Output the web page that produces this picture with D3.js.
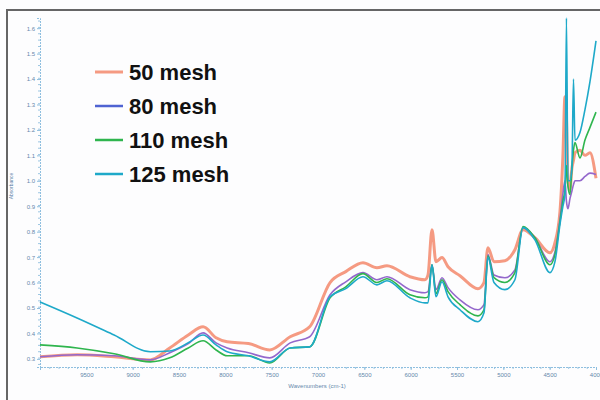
<!DOCTYPE html>
<html>
<head>
<meta charset="utf-8">
<script src="https://cdn.jsdelivr.net/npm/d3@7"></script>
<style>
  body { margin: 0; background: #fdfdfe; }
  .tick text { fill: #6688ab; font-family: "Liberation Sans", Arial, sans-serif; }
</style>
</head>
<body>
<div id="chart"></div>
<script>
// spectra (wavenumber in cm-1, absorbance)
var wavenumbers = [10000, 9600, 9200, 8810, 8600, 8400, 8240, 8100, 7980, 7750, 7520, 7300, 7090, 6870, 6700,
  6515, 6364, 6256, 6008, 5846, 5813, 5770, 5727, 5662, 5597, 5468, 5274, 5209, 5166, 5101, 4983, 4875, 4788,
  4659, 4497, 4443, 4389, 4357, 4335, 4319, 4303, 4281, 4260, 4243, 4227, 4173, 4119, 4065, 4000];

var mesh50 = [0.308, 0.316, 0.308, 0.296, 0.343, 0.394, 0.426, 0.383, 0.367, 0.36, 0.335, 0.387, 0.426, 0.60, 0.643,
  0.678, 0.658, 0.666, 0.623, 0.611, 0.63, 0.808, 0.682, 0.698, 0.662, 0.627, 0.576, 0.60, 0.737, 0.682, 0.686, 0.729, 0.808,
  0.776, 0.717, 0.757, 0.879, 1.10, 1.33, 1.25, 1.0, 0.965, 1.05, 1.08, 1.11, 1.12, 1.10, 1.11, 1.01];

var mesh80 = [0.308, 0.316, 0.312, 0.296, 0.324, 0.36, 0.402, 0.363, 0.343, 0.324, 0.304, 0.363, 0.387, 0.552, 0.603,
  0.639, 0.611, 0.623, 0.572, 0.56, 0.564, 0.67, 0.572, 0.619, 0.58, 0.532, 0.493, 0.513, 0.71, 0.63, 0.619, 0.65, 0.816,
  0.776, 0.682, 0.72, 0.847, 0.95, 1.0, 0.92, 0.89, 0.93, 0.96, 0.985, 1.0, 1.0, 1.017, 1.03, 1.025];

var mesh110 = [0.355, 0.343, 0.32, 0.288, 0.304, 0.343, 0.371, 0.335, 0.312, 0.312, 0.284, 0.343, 0.347, 0.54, 0.583,
  0.635, 0.60, 0.615, 0.552, 0.54, 0.544, 0.67, 0.556, 0.611, 0.564, 0.513, 0.469, 0.493, 0.705, 0.619, 0.60, 0.639, 0.82,
  0.776, 0.67, 0.71, 0.84, 0.92, 0.965, 1.06, 0.98, 0.946, 1.05, 1.12, 1.15, 1.09, 1.16, 1.21, 1.27];

var mesh125 = [0.524, 0.461, 0.394, 0.328, 0.331, 0.363, 0.394, 0.355, 0.328, 0.312, 0.288, 0.343, 0.347, 0.544, 0.576,
  0.623, 0.591, 0.607, 0.54, 0.52, 0.52, 0.67, 0.544, 0.603, 0.544, 0.493, 0.446, 0.481, 0.70, 0.60, 0.572, 0.611, 0.816,
  0.768, 0.639, 0.682, 0.828, 0.90, 0.946, 1.64, 1.0, 1.0, 1.05, 1.40, 1.16, 1.19, 1.28, 1.39, 1.55];

var seriesNames = ["50 mesh", "80 mesh", "110 mesh", "125 mesh"];
var seriesValues = [mesh50, mesh80, mesh110, mesh125];
var lineColors = ["#f59a82", "#9468cc", "#2fb54e", "#1ea9c9"];
var legendColors = ["#f59a82", "#4f63d2", "#2fb54e", "#1ea9c9"];
var lineWidths = [3, 1.6, 1.6, 1.6];

var yTicks = [0.3, 0.4, 0.5, 0.6, 0.7, 0.8, 0.9, 1.0, 1.1, 1.2, 1.3, 1.4, 1.5, 1.6];
var xTicks = [9500, 9000, 8500, 8000, 7500, 7000, 6500, 6000, 5500, 5000, 4500, 4000];

var width = 600,
    height = 400;

var svg = d3.select("#chart")
    .append("svg")
    .attr("width", width)
    .attr("height", height);

svg.append("rect")
    .attr("width", width)
    .attr("height", height)
    .attr("fill", "#fdfdfe");

// frame of the screenshot
svg.append("path")
    .attr("d", "M7,400 L7,10 L600,10")
    .attr("fill", "none")
    .attr("stroke", "#666")
    .attr("stroke-width", 2);

var x = d3.scaleLinear().domain([10000, 4000]).range([40, 596]);
var y = d3.scaleLinear().domain([0.268, 1.64]).range([367, 18]);

// minor ticks, drawn as little dashes along both axes
svg.append("g")
    .attr("transform", "translate(0,367)")
    .call(d3.axisBottom(x).tickValues(d3.range(4000, 10001, 100)).tickSize(2).tickFormat(""))
    .call(function (g) { g.select(".domain").remove(); })
    .selectAll("line").attr("stroke", "#9cc6e2");

svg.append("g")
    .attr("transform", "translate(40,0)")
    .call(d3.axisLeft(y).tickValues(d3.range(0.28, 1.64, 0.025)).tickSize(2).tickFormat(""))
    .call(function (g) { g.select(".domain").remove(); })
    .selectAll("line").attr("stroke", "#9cc6e2");

/**
 * Main axes
 */
var xAxis = svg.append("g")
    .attr("transform", "translate(0,367)")
    .call(d3.axisBottom(x).tickValues(xTicks).tickSize(3).tickPadding(3).tickFormat(d3.format("d")));

var yAxis = svg.append("g")
    .attr("transform", "translate(40,0)")
    .call(d3.axisLeft(y).tickValues(yTicks).tickSize(3).tickPadding(2).tickFormat(d3.format(".1f")));

[xAxis, yAxis].forEach(function (g) {
    g.select(".domain").attr("stroke", "#8fbfdf").attr("stroke-dasharray", "2,1");
    g.selectAll(".tick line").attr("stroke", "#8fbfdf");
    g.selectAll(".tick text").style("font-size", "6px");
});

svg.append("text")
    .attr("x", 317)
    .attr("y", 388)
    .attr("text-anchor", "middle")
    .attr("fill", "#6688ab")
    .style("font-family", "Liberation Sans, Arial, sans-serif")
    .style("font-size", "6px")
    .text("Wavenumbers (cm-1)");

svg.append("text")
    .attr("transform", "translate(13,186) rotate(-90)")
    .attr("text-anchor", "middle")
    .attr("fill", "#6688ab")
    .style("font-family", "Liberation Sans, Arial, sans-serif")
    .style("font-size", "5px")
    .text("Absorbance");

/**
 * Spectra
 */
var line = d3.line()
    .curve(d3.curveMonotoneX)
    .x(function (d) { return x(d[0]); })
    .y(function (d) { return y(d[1]); });

seriesValues.forEach(function (vals, i) {
    var pts = wavenumbers.map(function (w, j) { return [w, vals[j]]; });
    svg.append("path")
        .datum(pts)
        .attr("d", line)
        .attr("fill", "none")
        .attr("stroke", lineColors[i])
        .attr("stroke-width", lineWidths[i])
        .attr("stroke-linejoin", "round");
});

/**
 * Legend
 */
var legend = svg.selectAll(".legend")
    .data(seriesNames)
    .enter()
    .append("g")
    .attr("transform", function (d, i) { return "translate(95," + (72 + i * 34) + ")"; });

legend.append("line")
    .attr("x1", 0)
    .attr("x2", 28)
    .attr("stroke", function (d, i) { return legendColors[i]; })
    .attr("stroke-width", function (d, i) { return i === 0 ? 3 : 2.5; });

legend.append("text")
    .attr("x", 34)
    .attr("dy", "0.36em")
    .attr("fill", "#111")
    .style("font-family", "Liberation Sans, Arial, sans-serif")
    .style("font-weight", "bold")
    .style("font-size", "22px")
    .text(function (d) { return d; });
</script>
</body>
</html>
